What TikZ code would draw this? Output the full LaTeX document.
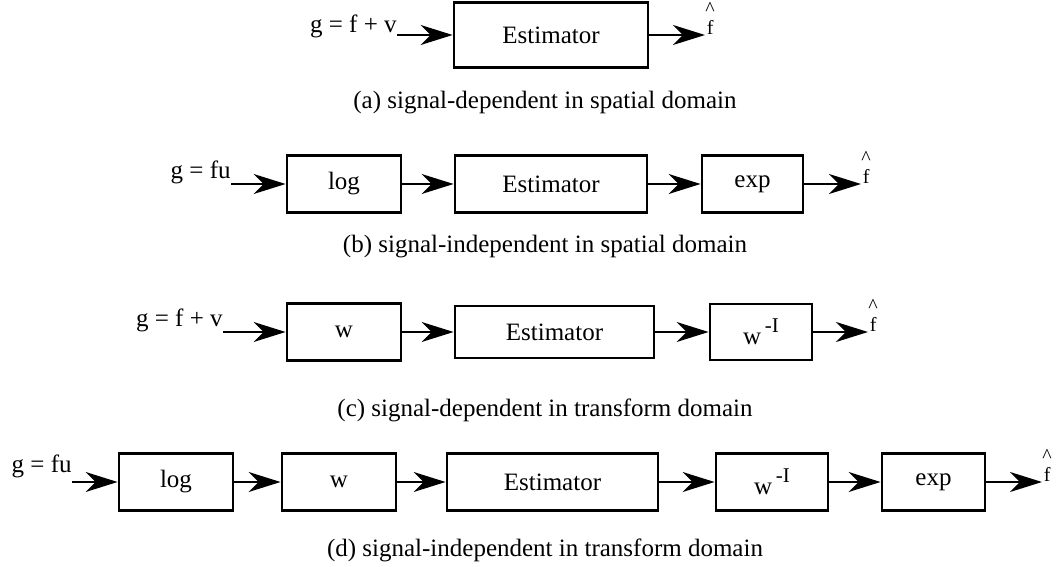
\documentclass[tikz,border=0pt]{standalone}
\usepackage{fontspec}
\setmainfont{Liberation Serif}
\usetikzlibrary{arrows.meta}

\begin{document}
\begin{tikzpicture}[x=0.5pt, y=-0.5pt,
  blk/.style={draw, line width=1.4pt, inner sep=0pt, font=\fontsize{12.5}{15}\selectfont},
  flow/.style={-{Stealth[length=16pt, width=10pt, inset=5pt]}, line width=1pt},
  lbl/.style={inner sep=0pt, font=\fontsize{12.5}{15}\selectfont},
  hatf/.style={inner sep=0pt, anchor=south west, align=center, font=\fontsize{10}{12}\selectfont}]

\useasboundingbox (0,0) rectangle (1057,567);

\newcommand{\winv}{w\raisebox{6pt}{\fontsize{10.5}{12}\selectfont\,-I}}
\newcommand{\fhat}{\textasciicircum\\[-2.5pt]f}

% (a)
\node[lbl, anchor=base east] (ina) at (397,33) {g = f + v};
\node[blk, minimum width=97pt, minimum height=32.5pt] (esta) at (551,35) {Estimator};
\node[hatf] (outa) at (705,35) {\fhat};
\draw[flow] (ina.east |- esta.west) -- (esta.west);
\draw[flow] (esta.east) -- (outa.south west);
\node[lbl] (capa) at (545,103) {(a) signal-dependent in spatial domain};

% (b)
\node[lbl, anchor=base east] (inb) at (231,179) {g = fu};
\node[blk, minimum width=57pt, minimum height=28.5pt] (logb) at (344,184) {log};
\node[blk, minimum width=96pt, minimum height=28.5pt] (estb) at (551,184) {Estimator};
\node[blk, minimum width=50.5pt, minimum height=28.5pt] (expb) at (752.5,184) {exp};
\node[hatf] (outb) at (861,184) {\fhat};
\draw[flow] (inb.east |- logb.west) -- (logb.west);
\draw[flow] (logb.east) -- (estb.west);
\draw[flow] (estb.east) -- (expb.west);
\draw[flow] (expb.east) -- (outb.south west);
\node[lbl] (capb) at (545,247) {(b) signal-independent in spatial domain};

% (c)
\node[lbl, anchor=base east] (inc) at (223,327) {g = f + v};
\node[blk, minimum width=57pt, minimum height=28.5pt] (wc) at (344,332) {w};
\node[blk, minimum width=99.5pt, minimum height=26pt] (estc) at (554.5,332) {Estimator};
\node[blk, minimum width=51pt, minimum height=28pt] (winvc) at (761,332) {\winv};
\node[hatf] (outc) at (868,332) {\fhat};
\draw[flow] (inc.east |- wc.west) -- (wc.west);
\draw[flow] (wc.east) -- (estc.west);
\draw[flow] (estc.east) -- (winvc.west);
\draw[flow] (winvc.east) -- (outc.south west);
\node[lbl] (capc) at (545,410) {(c) signal-dependent in transform domain};

% (d)
\node[lbl, anchor=base east] (ind) at (72,473) {g = fu};
\node[blk, minimum width=57pt, minimum height=28.5pt] (logd) at (176,482) {log};
\node[blk, minimum width=57pt, minimum height=28.5pt] (wd) at (339,482) {w};
\node[blk, minimum width=105.5pt, minimum height=28.5pt] (estd) at (552.5,482) {Estimator};
\node[blk, minimum width=56pt, minimum height=28.5pt] (winvd) at (772,482) {\winv};
\node[blk, minimum width=51.5pt, minimum height=28.5pt] (expd) at (933.5,482) {exp};
\node[hatf] (outd) at (1042,482) {\fhat};
\draw[flow] (ind.east |- logd.west) -- (logd.west);
\draw[flow] (logd.east) -- (wd.west);
\draw[flow] (wd.east) -- (estd.west);
\draw[flow] (estd.east) -- (winvd.west);
\draw[flow] (winvd.east) -- (expd.west);
\draw[flow] (expd.east) -- (outd.south west);
\node[lbl] (capd) at (545,550) {(d) signal-independent in transform domain};

\end{tikzpicture}
\end{document}
